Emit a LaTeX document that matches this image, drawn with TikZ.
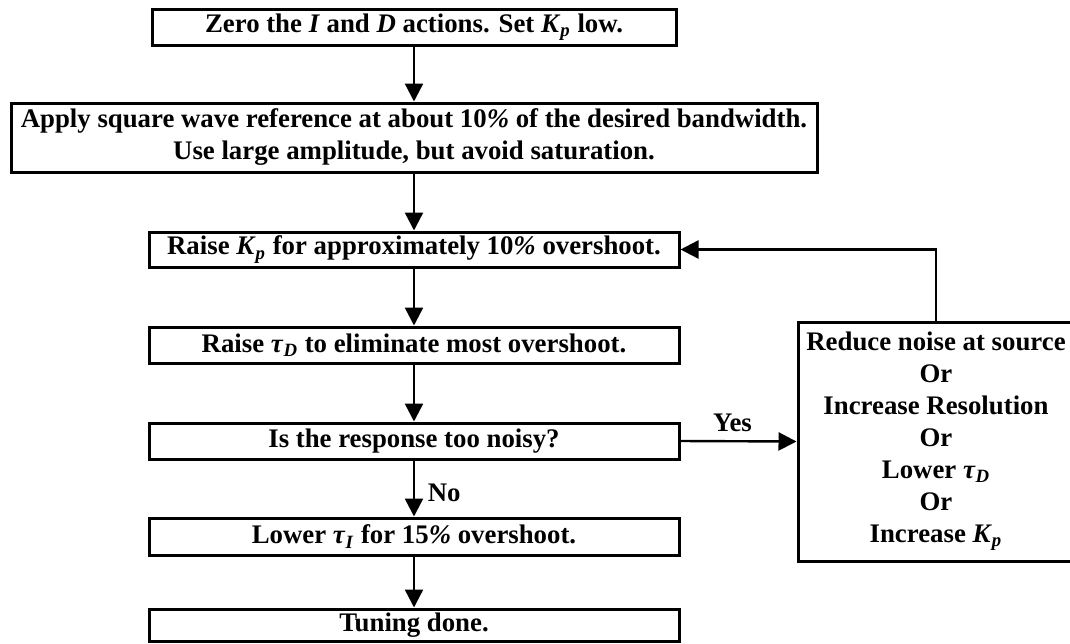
\documentclass[tikz,border=0pt]{standalone}
\usepackage{fontspec}
\setmainfont{Liberation Serif}
\usetikzlibrary{arrows.meta}
\begin{document}
\begin{tikzpicture}[x=0.5pt,y=-0.5pt,
  box/.style={draw, line width=1.5pt, inner sep=0pt, align=center,
    font=\fontsize{13.4}{16}\selectfont\bfseries},
  conn/.style={line width=1.2pt, -{Triangle[length=9pt,width=9pt]}},
  lbl/.style={font=\fontsize{13.4}{16}\selectfont\bfseries}]
\useasboundingbox (0,0) rectangle (1070,643);
\node[box, minimum width=262pt, minimum height=18pt] (b1) at (414,27)
  {Zero the \textit{I} and \textit{D} actions. Set \textit{K}\textsubscript{\textit{p}} low.};
\node[box, minimum width=403pt, minimum height=34.5pt] (b2) at (414,137.5)
  {Apply square wave reference at about 10\textit{\%} of the desired bandwidth.\\Use large amplitude, but avoid saturation.};
\node[box, minimum width=265pt, minimum height=17.5pt] (b3) at (414,249.5)
  {Raise \textit{K}\textsubscript{\textit{p}} for approximately 10\textit{\%} overshoot.};
\node[box, minimum width=265pt, minimum height=18pt] (b4) at (414,345)
  {Raise \textit{τ}\textsubscript{\textit{D}} to eliminate most overshoot.};
\node[box, minimum width=265pt, minimum height=18pt] (b5) at (414,441)
  {Is the response too noisy?};
\node[box, minimum width=265pt, minimum height=18.5pt] (b6) at (414,536.5)
  {Lower \textit{τ}\textsubscript{\textit{I}} for 15\textit{\%} overshoot.};
\node[box, minimum width=265pt, minimum height=16pt] (b7) at (414,625)
  {Tuning done.};
\node[box, minimum width=138pt, minimum height=119.5pt] (rb) at (936,441.5)
  {Reduce noise at source\\Or\\Increase Resolution\\Or\\Lower \textit{τ}\textsubscript{\textit{D}}\\Or\\Increase \textit{K}\textsubscript{\textit{p}}};
\draw[conn] (b1) -- (b2);
\draw[conn] (b2) -- (b3);
\draw[conn] (b3) -- (b4);
\draw[conn] (b4) -- (b5);
\draw[conn] (b5) -- node[right, lbl, xshift=3pt, yshift=-2pt] {No} (b6);
\draw[conn] (b6) -- (b7);
\draw[conn] (b5.east) -- node[above, lbl, xshift=-3pt, yshift=1pt] {Yes} (rb.west);
\draw[conn] (rb.north) |- (b3.east);
\end{tikzpicture}
\end{document}
